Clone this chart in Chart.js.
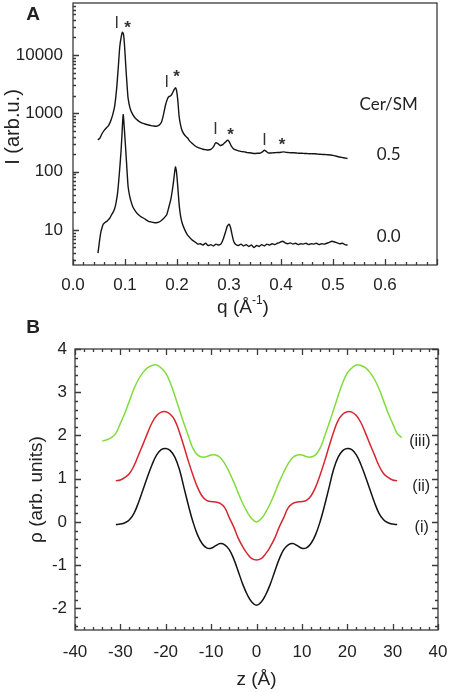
<!DOCTYPE html>
<html>
<head>
<meta charset="utf-8">
<title>SAXS and electron density profiles</title>
<script src="https://cdn.jsdelivr.net/npm/chart.js@4.4.1/dist/chart.umd.min.js"></script>
<style>
  html, body { margin: 0; padding: 0; background: #fff; }
  .panel { position: absolute; left: 0; width: 450px; }
  #boxA { top: 0; height: 322px; }
  #boxB { top: 312px; height: 380px; }
</style>
</head>
<body>
<div class="panel" id="boxA"><canvas id="saxsChart"></canvas></div>
<div class="panel" id="boxB"><canvas id="densityChart"></canvas></div>
<script>
// Panel A - scattered intensity I(q), Cer/SM = 0.5 (upper) and 0.0 (lower)
var qHalf = [0.048,0.052,0.056,0.060,0.064,0.068,0.072,0.076,0.080,0.084,
    0.087,0.090,0.093,0.095,0.097,0.099,0.1015,0.104,0.106,0.110,
    0.115,0.120,0.125,0.130,0.135,0.140,0.145,0.150,0.155,0.160,
    0.165,0.170,0.174,0.178,0.182,0.185,0.188,0.191,0.194,0.197,
    0.199,0.2015,0.204,0.207,0.210,0.215,0.220,0.225,0.230,0.235,
    0.240,0.245,0.250,0.255,0.260,0.265,0.270,0.274,0.278,0.283,
    0.288,0.293,0.297,0.300,0.304,0.308,0.313,0.320,0.325,0.330,
    0.335,0.340,0.345,0.350,0.355,0.360,0.365,0.368,0.371,0.375,
    0.380,0.385,0.390,0.395,0.400,0.405,0.410,0.415,0.420,0.425,
    0.430,0.435,0.440,0.445,0.450,0.455,0.460,0.465,0.470,0.475,
    0.480,0.485,0.490,0.495,0.500,0.505,0.510,0.515,0.520,0.525,0.528];
var iHalf = [350,380,450,510,560,610,720,920,1300,2700,
    6000,14000,21000,24500,23000,15000,6500,3000,1800,1200,
    950,820,750,700,670,650,630,615,605,600,
    620,700,950,1400,1800,1950,2000,2200,2500,2750,
    2500,1700,900,620,500,420,380,330,300,275,
    260,250,242,238,235,240,265,310,305,280,
    290,320,345,330,280,250,235,225,220,218,
    212,210,207,205,206,208,220,232,225,210,
    208,210,212,213,215,218,214,212,210,210,
    208,206,207,205,204,203,203,202,200,198,
    197,196,195,193,190,185,180,176,173,170,168];
var qZero = [0.048,0.050,0.052,0.054,0.056,0.058,0.060,0.062,0.065,0.068,
    0.071,0.074,0.077,0.080,0.083,0.086,0.089,0.092,0.094,0.0965,
    0.099,0.1015,0.104,0.106,0.109,0.112,0.115,0.120,0.125,0.130,
    0.135,0.140,0.145,0.150,0.155,0.160,0.165,0.170,0.175,0.180,
    0.184,0.188,0.192,0.195,0.197,0.199,0.2015,0.204,0.207,0.210,
    0.215,0.220,0.225,0.230,0.235,0.240,0.245,0.250,0.255,0.260,
    0.265,0.270,0.275,0.280,0.285,0.289,0.293,0.2965,0.300,0.303,
    0.306,0.309,0.313,0.318,0.323,0.328,0.333,0.338,0.343,0.348,
    0.353,0.358,0.363,0.368,0.373,0.378,0.383,0.388,0.393,0.398,
    0.403,0.408,0.413,0.418,0.423,0.428,0.433,0.438,0.443,0.448,
    0.453,0.458,0.463,0.468,0.473,0.478,0.483,0.488,0.493,0.498,
    0.503,0.508,0.513,0.518,0.523,0.528];
var iZero = [4.0,5.5,7.5,9.5,11,12.5,13,13.5,14,15,
    16,18,20,23,30,45,90,200,400,950,
    500,230,100,55,38,30,25,21,18.5,17,
    16,15,14,13.7,13.4,13.3,13.6,14.5,16,18,
    24,33,55,90,120,100,55,28,17,13,
    10,8.2,7.3,6.6,6.2,5.7,5.8,5.5,5.9,5.4,
    5.6,5.3,5.7,5.5,5.8,7.0,9.0,11.5,12.5,11,
    8.2,6.4,5.6,5.4,5.7,5.3,5.6,5.2,5.5,5.0,
    5.4,5.2,5.6,5.3,5.7,5.5,5.8,5.6,5.9,6.1,
    6.4,6.0,5.8,6.0,5.7,5.9,5.6,5.8,5.7,5.9,
    5.6,5.8,5.7,5.9,5.6,5.8,5.7,5.9,6.1,6.4,
    6.2,6.0,5.8,5.9,5.6,5.5];
var qTicks = [0, 0.1, 0.2, 0.3, 0.4, 0.5, 0.6];
var iTicks = [10, 100, 1000, 10000];

// peak markers of the two lattices ("I" and "*") above the 0.5 curve
var tagText = ['I', '*', 'I', '*', 'I', '*', 'I', '*'];
var tagQ = [0.0843, 0.105, 0.180, 0.199, 0.274, 0.303, 0.368, 0.402];
var tagI = [34000, 34000, 3300, 4900, 520, 500, 336, 330];

// Panel B - electron density profiles (i), (ii), (iii)
var zShort = [-31,-30,-29,-28,-27,-26,-25,-24,-23,-22,-21,-20,-19,-18,-17,-16,
    -15,-14,-13,-12,-11,-10,-9,-8,-7,-6,-5,-4,-3,-2,-1,0,
    1,2,3,4,5,6,7,8,9,10,11,12,13,14,15,16,17,18,19,20,21,22,23,24,25,26,27,28,29,30,31];
var rhoI = [-0.06,-0.05,-0.02,0.05,0.2,0.45,0.75,1.05,1.33,1.55,1.67,1.7,1.65,1.5,1.22,0.8,
    0.38,0.0,-0.3,-0.5,-0.6,-0.61,-0.55,-0.5,-0.53,-0.64,-0.86,-1.15,-1.45,-1.69,-1.86,-1.93,
    -1.86,-1.69,-1.45,-1.15,-0.86,-0.64,-0.53,-0.5,-0.55,-0.61,-0.6,-0.5,-0.3,0.0,0.38,0.8,
    1.22,1.5,1.65,1.7,1.67,1.55,1.33,1.05,0.75,0.45,0.2,0.05,-0.02,-0.05,-0.06];
var rhoII = [0.95,0.97,1.03,1.12,1.3,1.55,1.8,2.06,2.3,2.46,2.54,2.55,2.49,2.35,2.08,1.75,
    1.4,1.08,0.8,0.6,0.5,0.47,0.46,0.43,0.33,0.1,-0.12,-0.38,-0.58,-0.74,-0.85,-0.88,
    -0.85,-0.74,-0.58,-0.38,-0.12,0.1,0.33,0.43,0.46,0.47,0.5,0.6,0.8,1.08,1.4,1.75,
    2.08,2.35,2.49,2.55,2.54,2.46,2.3,2.06,1.8,1.55,1.3,1.12,1.03,0.97,0.95];
var zLong = [-34,-33,-32,-31,-30,-29,-28,-27,-26,-25,-24,-23,-22,-21,-20,-19,-18,-17,
    -16,-15,-14,-13,-12,-11,-10,-9,-8,-7,-6,-5,-4,-3,-2,-1,0,
    1,2,3,4,5,6,7,8,9,10,11,12,13,14,15,16,17,18,19,20,21,22,23,24,25,26,27,28,29,30,31,32];
var rhoIII = [1.87,1.9,1.95,2.05,2.28,2.52,2.8,3.08,3.3,3.46,3.57,3.62,3.63,3.56,3.44,3.22,2.92,2.6,
    2.28,1.98,1.7,1.55,1.5,1.51,1.55,1.55,1.49,1.35,1.15,0.92,0.66,0.42,0.22,0.07,0.0,
    0.07,0.22,0.42,0.66,0.92,1.15,1.35,1.49,1.55,1.55,1.51,1.5,1.55,1.7,1.98,2.28,2.6,
    2.92,3.22,3.44,3.56,3.63,3.62,3.57,3.46,3.3,3.08,2.8,2.52,2.28,2.05,1.95];
var zTicks = [-40, -30, -20, -10, 0, 10, 20, 30, 40];
var rhoTicks = [-2, -1, 0, 1, 2, 3, 4];

const FONT = "'Liberation Sans', Arial, sans-serif";
const INK = '#222';
const FRAME = '#3a3a3a';

function toPoints(xs, ys) {
    return xs.map((x, i) => ({ x: x, y: ys[i] }));
}

// inward tick marks: [value, length]
function linearMarks(min, max, minor, major) {
    var marks = [];
    for (var k = Math.ceil(min / minor - 1e-9); k * minor <= max + 1e-9; k++) {
        var v = k * minor;
        var r = v / major;
        marks.push([v, Math.abs(r - Math.round(r)) < 1e-6 ? 6 : 3]);
    }
    return marks;
}

function logMarks(min, max) {
    var marks = [];
    for (var d = 1; d <= 100000; d *= 10) {
        for (var k = 1; k < 10; k++) {
            var v = d * k;
            if (v >= min && v <= max) marks.push([v, k === 1 ? 6 : 3]);
        }
    }
    return marks;
}

// keep the plot box where it is: no extra room for end labels
function fixBox(size, key) {
    return (s) => {
        s[key] = size;
        s.paddingTop = 0; s.paddingBottom = 0;
        s.paddingLeft = 0; s.paddingRight = 0;
    };
}

/**
 * Box around the plot with inward ticks
 */
function framePlugin(xMarks, yMarks, allSides) {
    return {
        id: 'frame',
        afterDatasetsDraw(chart) {
            const { ctx, chartArea, scales } = chart;
            const { left, right, top, bottom } = chartArea;
            ctx.save();
            ctx.strokeStyle = FRAME;
            ctx.lineWidth = 1.3;
            ctx.strokeRect(left, top, right - left, bottom - top);
            ctx.beginPath();
            xMarks.forEach(([v, len]) => {
                const px = Math.round(scales.x.getPixelForValue(v)) + 0.5;
                ctx.moveTo(px, bottom); ctx.lineTo(px, bottom - len);
                if (allSides) { ctx.moveTo(px, top); ctx.lineTo(px, top + len); }
            });
            yMarks.forEach(([v, len]) => {
                const py = Math.round(scales.y.getPixelForValue(v)) + 0.5;
                ctx.moveTo(left, py); ctx.lineTo(left + len, py);
                if (allSides) { ctx.moveTo(right, py); ctx.lineTo(right - len, py); }
            });
            ctx.stroke();
            ctx.restore();
        }
    };
}

/**
 * Text placed at data coordinates
 */
function notesPlugin(items) {
    return {
        id: 'notes',
        afterDatasetsDraw(chart) {
            const { ctx, scales } = chart;
            ctx.save();
            ctx.textAlign = 'center';
            ctx.textBaseline = 'middle';
            items.forEach(it => {
                ctx.font = it.font;
                ctx.fillStyle = it.color || INK;
                ctx.fillText(it.text, scales.x.getPixelForValue(it.x),
                    scales.y.getPixelForValue(it.y) + (it.dy || 0));
            });
            ctx.restore();
        }
    };
}

// panel A notes
var notesA = tagText.map((t, i) => ({
    text: t, x: tagQ[i], y: tagI[i],
    font: t === '*' ? 'bold 17px ' + FONT : '16px ' + FONT,
    dy: t === '*' ? 4 : 0, color: '#333'
}));
notesA.push({ text: 'Cer/SM', x: 0.607, y: 1390, font: '17px Lato' });
notesA.push({ text: '0.5', x: 0.607, y: 200, font: '17px Lato' });
notesA.push({ text: '0.0', x: 0.607, y: 7.6, font: '17px Lato' });

// panel A: letter and axis titles (with superscript)
const titlesA = {
    id: 'titlesA',
    afterDraw(chart) {
        const ctx = chart.ctx;
        ctx.save();
        ctx.fillStyle = INK;
        ctx.textBaseline = 'middle';
        ctx.textAlign = 'center';
        ctx.font = 'bold 19px ' + FONT;
        ctx.fillText('A', 33, 15);

        ctx.save();
        ctx.translate(13, 127);
        ctx.rotate(-Math.PI / 2);
        ctx.font = '20px ' + FONT;
        ctx.fillText('I (arb.u.)', 0, 0);
        ctx.restore();

        ctx.textAlign = 'left';
        const big = '19px ' + FONT, small = '12px ' + FONT;
        ctx.font = big;
        const w1 = ctx.measureText('q (Å').width;
        const w3 = ctx.measureText(')').width;
        ctx.font = small;
        const w2 = ctx.measureText('-1').width;
        let x0 = 243 - (w1 + w2 + w3) / 2;
        ctx.font = big;
        ctx.fillText('q (Å', x0, 308);
        ctx.font = small;
        ctx.fillText('-1', x0 + w1, 301);
        ctx.font = big;
        ctx.fillText(')', x0 + w1 + w2, 308);
        ctx.restore();
    }
};

const saxsChart = new Chart(document.getElementById('saxsChart'), {
    type: 'line',
    data: {
        datasets: [{
            data: toPoints(qHalf, iHalf),
            borderColor: '#151515',
        }, {
            data: toPoints(qZero, iZero),
            borderColor: '#151515',
        }]
    },
    options: {
        animation: false,
        responsive: true,
        maintainAspectRatio: false,
        layout: { padding: { top: 3, right: 13, left: 0, bottom: 0 } },
        elements: {
            point: { radius: 0 },
            line: { borderWidth: 1.4, tension: 0.2 }
        },
        plugins: {
            legend: { display: false },
            tooltip: { enabled: false }
        },
        scales: {
            x: {
                type: 'linear',
                min: 0,
                max: 0.7,
                afterBuildTicks: (s) => { s.ticks = qTicks.map(v => ({ value: v })); },
                afterFit: fixBox(57, 'height'),
                grid: { display: false, drawTicks: false },
                border: { display: false },
                ticks: {
                    callback: (v) => Number(v).toFixed(1),
                    font: { family: FONT, size: 17 },
                    color: INK,
                    padding: 10,
                    maxRotation: 0,
                    autoSkip: false
                }
            },
            y: {
                type: 'logarithmic',
                min: 2.5,
                max: 78000,
                afterBuildTicks: (s) => { s.ticks = iTicks.map(v => ({ value: v })); },
                afterFit: fixBox(73, 'width'),
                grid: { display: false, drawTicks: false },
                border: { display: false },
                ticks: {
                    callback: (v) => String(v),
                    font: { family: FONT, size: 17 },
                    color: INK,
                    padding: 10,
                    autoSkip: false
                }
            }
        }
    },
    plugins: [framePlugin(linearMarks(0, 0.7, 0.02, 0.1), logMarks(2.5, 78000), false),
        notesPlugin(notesA), titlesA]
});

// panel B notes
var notesB = [
    { text: '(iii)', x: 36.0, y: 1.85, font: '16px ' + FONT },
    { text: '(ii)', x: 36.3, y: 0.82, font: '16px ' + FONT },
    { text: '(i)', x: 36.4, y: -0.14, font: '16px ' + FONT }
];

const letterB = {
    id: 'letterB',
    afterDraw(chart) {
        const ctx = chart.ctx;
        ctx.save();
        ctx.fillStyle = INK;
        ctx.textAlign = 'center';
        ctx.textBaseline = 'middle';
        ctx.font = 'bold 19px ' + FONT;
        ctx.fillText('B', 33, 16);
        ctx.restore();
    }
};

const densityChart = new Chart(document.getElementById('densityChart'), {
    type: 'line',
    data: {
        datasets: [{
            data: toPoints(zLong, rhoIII),
            borderColor: '#80dc3c',
        }, {
            data: toPoints(zShort, rhoII),
            borderColor: '#d6262e',
        }, {
            data: toPoints(zShort, rhoI),
            borderColor: '#141414',
        }]
    },
    options: {
        animation: false,
        responsive: true,
        maintainAspectRatio: false,
        layout: { padding: { top: 37, right: 12, left: 0, bottom: 0 } },
        elements: {
            point: { radius: 0 },
            line: { borderWidth: 1.5, tension: 0.4 }
        },
        plugins: {
            legend: { display: false },
            tooltip: { enabled: false }
        },
        scales: {
            x: {
                type: 'linear',
                min: -40,
                max: 40,
                afterBuildTicks: (s) => { s.ticks = zTicks.map(v => ({ value: v })); },
                afterFit: fixBox(62, 'height'),
                grid: { display: false, drawTicks: false },
                border: { display: false },
                ticks: {
                    font: { family: FONT, size: 17 },
                    color: INK,
                    padding: 12,
                    maxRotation: 0,
                    autoSkip: false
                },
                title: {
                    display: true,
                    text: 'z (Å)',
                    font: { family: FONT, size: 19 },
                    color: INK,
                    padding: { top: 0, bottom: 1 }
                }
            },
            y: {
                type: 'linear',
                min: -2.5,
                max: 4,
                afterBuildTicks: (s) => { s.ticks = rhoTicks.map(v => ({ value: v })); },
                afterFit: fixBox(75, 'width'),
                grid: { display: false, drawTicks: false },
                border: { display: false },
                ticks: {
                    font: { family: FONT, size: 17 },
                    color: INK,
                    padding: 8,
                    autoSkip: false
                },
                title: {
                    display: true,
                    text: 'ρ (arb. units)',
                    font: { family: FONT, size: 19 },
                    color: INK,
                    padding: { top: 25, bottom: 0 }
                }
            }
        }
    },
    plugins: [framePlugin(linearMarks(-40, 40, 2, 10), linearMarks(-2.5, 4, 0.2, 1), true),
        notesPlugin(notesB), letterB]
});
</script>
</body>
</html>
